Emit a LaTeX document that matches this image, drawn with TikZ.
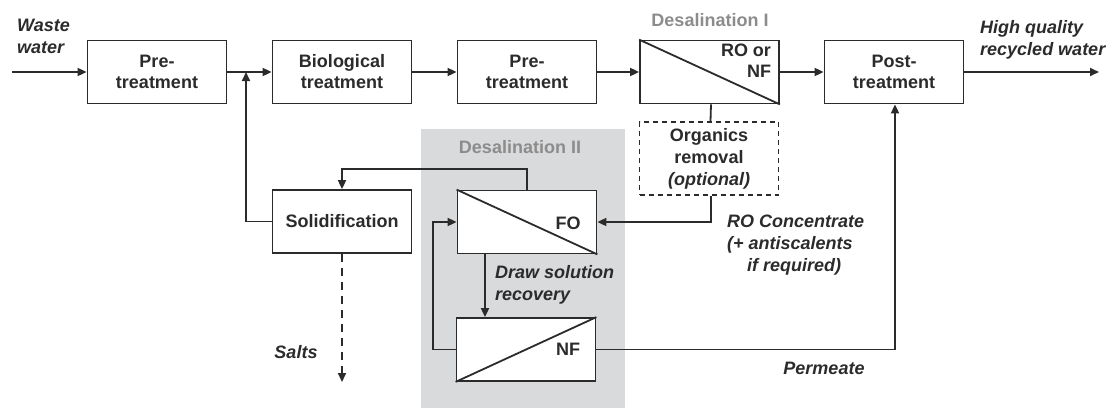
\documentclass[tikz,border=0pt]{standalone}
\usepackage{fontspec}
\setmainfont{Liberation Sans}
\usetikzlibrary{arrows.meta}
\definecolor{ink}{HTML}{2B2B2B}
\definecolor{panelgrey}{HTML}{D9DADC}
\definecolor{greytxt}{HTML}{8C8C8C}
\tikzset{
  unit/.style={draw=ink, line width=1.8pt, fill=white, minimum width=139pt, minimum height=63pt, inner sep=0pt, align=center, text=ink, font=\bfseries\fontsize{18}{21}\selectfont},
  lab/.style={text=ink, font=\bfseries\itshape\fontsize{18}{22}\selectfont, inner sep=0pt},
  grey/.style={text=greytxt, font=\bfseries\fontsize{18}{21}\selectfont, inner sep=0pt},
  flow/.style={draw=ink, line width=1.8pt, -{Triangle[length=9pt,width=8pt]}},
  link/.style={draw=ink, line width=1.8pt},
}
\begin{document}
\begin{tikzpicture}[x=1pt,y=-1pt]
\useasboundingbox (0,0) rectangle (1117,408);
% shaded region
\fill[fill=panelgrey] (421,129) rectangle (625,408);
\node[grey] (d2) at (520,147) {Desalination II};
\node[grey] (d1) at (710,20) {Desalination I};
% boxes
\node[unit] (pre1) at (157,72) {Pre-\\treatment};
\node[unit] (bio) at (342,72) {Biological\\treatment};
\node[unit] (pre2) at (527,72) {Pre-\\treatment};
\node[unit] (ro) at (709.5,72) {};
\draw[link] (ro.north west) -- (ro.south east);
\node[unit, draw=none, fill=none, anchor=north east, align=right, minimum width=0pt, minimum height=0pt] (rot) at ([xshift=-8pt,yshift=-3pt]ro.north east) {RO or\\NF};
\node[unit] (post) at (894,72) {Post-\\treatment};
\node[unit, dashed, dash pattern=on 5pt off 4pt, minimum height=73pt, font=\bfseries\fontsize{18}{22}\selectfont] (org) at (709,158.5) {Organics\\removal\\\textit{(optional)}};
\node[unit] (solid) at (342,221.5) {Solidification};
\node[unit] (fo) at (527,222) {};
\draw[link] (fo.north west) -- (fo.south east);
\node[unit, draw=none, fill=none, minimum width=0pt, minimum height=0pt] (fot) at (568,223) {FO};
\node[unit] (nf) at (526,349.5) {};
\draw[link] (nf.south west) -- (nf.north east);
\node[unit, draw=none, fill=none, minimum width=0pt, minimum height=0pt] (nft) at (568,349) {NF};
% coordinates
\coordinate (ww) at (12,72);
\coordinate (j) at (246,72);
\coordinate (out) at (1099,72);
\coordinate (salt) at (342,382);
% labels
\node[lab, anchor=west, align=left] (wwl) at (17,36) {Waste\\water};
\node[lab, anchor=west, align=left] (hq) at (980,40) {High quality\\recycled water};
\node[lab, anchor=west, align=left] (dsr) at (495,284.5) {Draw solution\\recovery};
\node[lab] (salts) at (296,352) {Salts};
\node[lab, anchor=west, align=left] (roc) at (727,245) {RO Concentrate\\(+ antiscalents\\\hspace*{20pt}if required)};
\node[lab] (perm) at (824,368) {Permeate};
% connectors
\draw[flow] (ww) -- (pre1.west);
\draw[flow] (pre1.east) -- (bio.west);
\draw[flow] (bio.east) -- (pre2.west);
\draw[flow] (pre2.east) -- (ro.west);
\draw[flow] (ro.east) -- (post.west);
\draw[flow] (post.east) -- (out);
\draw[link] ([xshift=1.5pt]ro.south) -- ([xshift=1.5pt]org.north);
\draw[flow] ([xshift=2pt]org.south) |- (fo.east);
\draw[flow] (fo.north) -- ++(0,-21) -| (solid.north);
\draw[flow] (solid.west) -| (j);
\draw[flow, dash pattern=on 8pt off 6pt] (solid.south) -- (salt);
\draw[flow] ([xshift=-42pt]fo.south) -- ([xshift=-41pt]nf.north);
\draw[flow] (nf.west) -- ++(-23,0) |- (fo.west);
\draw[flow] (nf.east) -| ([xshift=1pt]post.south);
\end{tikzpicture}
\end{document}
